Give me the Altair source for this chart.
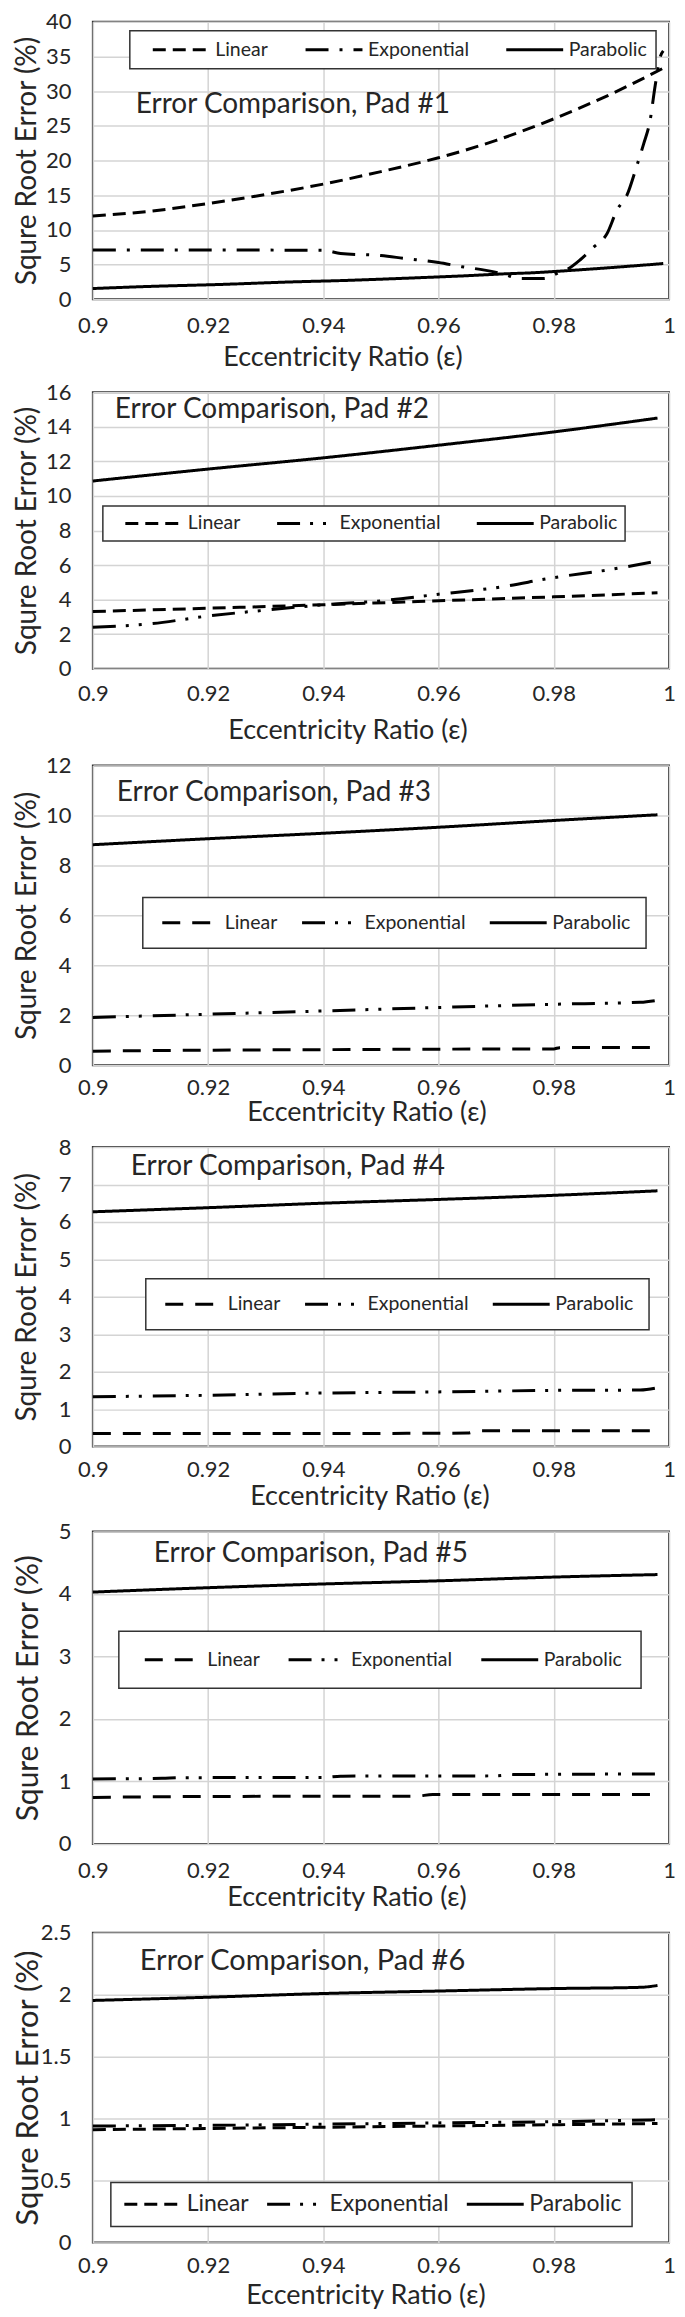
import altair as alt
import pandas as pd

SERIES = ["Linear", "Exponential", "Parabolic"]
X_TICKS = [0.9, 0.92, 0.94, 0.96, 0.98, 1.0]
X_TITLE = "Eccentricity Ratio (ε)"
Y_TITLE = "Squre Root Error (%)"

# ---------------- Pad #1 ----------------
p1_lin_x = [0.9, 0.91, 0.92, 0.93, 0.94, 0.95, 0.96, 0.97, 0.98, 0.99, 0.999]
p1_lin_y = [12.0, 12.7, 13.8, 15.1, 16.6, 18.4, 20.4, 22.9, 26.0, 29.6, 33.3]
p1_exp_x = [0.9, 0.92, 0.94, 0.943, 0.95, 0.954, 0.96, 0.964, 0.968, 0.971, 0.9742, 0.9783,
            0.981, 0.9823, 0.9846, 0.9869, 0.9892, 0.991, 0.9927, 0.9944, 0.9956, 0.9967,
            0.9976, 0.9985, 0.999]
p1_exp_y = [7.1, 7.1, 7.05, 6.6, 6.3, 5.9, 5.3, 4.7, 4.2, 3.7, 3.0, 3.0,
            3.9, 4.3, 5.7, 7.5, 9.4, 12.9, 15.0, 19.2, 22.4, 25.7,
            30.8, 35.0, 35.8]
p1_par_x = [0.9, 0.909, 0.923, 0.934, 0.944, 0.952, 0.959, 0.965, 0.971, 0.977, 0.98, 0.988, 0.999]
p1_par_y = [1.55, 1.83, 2.16, 2.49, 2.72, 2.96, 3.19, 3.4, 3.65, 3.85, 4.0, 4.45, 5.15]
p1_y_ticks = [0, 5, 10, 15, 20, 25, 30, 35, 40]

# ---------------- Pad #2 ----------------
p2_lin_x = [0.9, 0.92, 0.94, 0.96, 0.98, 0.998]
p2_lin_y = [3.31, 3.5, 3.7, 3.93, 4.16, 4.39]
p2_exp_x = [0.9, 0.91, 0.92, 0.93, 0.94, 0.95, 0.96, 0.97, 0.98, 0.99, 0.997]
p2_exp_y = [2.4, 2.6, 3.05, 3.39, 3.7, 3.93, 4.31, 4.69, 5.27, 5.75, 6.17]
p2_par_x = [0.9, 0.92, 0.94, 0.96, 0.98, 0.998]
p2_par_y = [10.86, 11.55, 12.2, 12.93, 13.7, 14.5]
p2_y_ticks = [0, 2, 4, 6, 8, 10, 12, 14, 16]

# ---------------- Pad #3 ----------------
p3_lin_x = [0.9, 0.92, 0.94, 0.96, 0.98, 0.981, 0.998]
p3_lin_y = [0.56, 0.6, 0.62, 0.64, 0.65, 0.7, 0.71]
p3_exp_x = [0.9, 0.92, 0.94, 0.96, 0.98, 0.995, 0.998]
p3_exp_y = [1.91, 2.04, 2.17, 2.31, 2.44, 2.52, 2.6]
p3_par_x = [0.9, 0.92, 0.94, 0.96, 0.98, 0.998]
p3_par_y = [8.83, 9.07, 9.29, 9.53, 9.8, 10.03]
p3_y_ticks = [0, 2, 4, 6, 8, 10, 12]

# ---------------- Pad #4 ----------------
p4_lin_x = [0.9, 0.94, 0.965, 0.967, 0.998]
p4_lin_y = [0.35, 0.35, 0.36, 0.42, 0.42]
p4_exp_x = [0.9, 0.92, 0.94, 0.96, 0.98, 0.995, 0.998]
p4_exp_y = [1.33, 1.37, 1.43, 1.46, 1.5, 1.51, 1.57]
p4_par_x = [0.9, 0.92, 0.94, 0.96, 0.98, 0.998]
p4_par_y = [6.27, 6.38, 6.5, 6.6, 6.71, 6.83]
p4_y_ticks = [0, 1, 2, 3, 4, 5, 6, 7, 8]

# ---------------- Pad #5 ----------------
p5_lin_x = [0.9, 0.92, 0.956, 0.959, 0.998]
p5_lin_y = [0.745, 0.76, 0.765, 0.79, 0.79]
p5_exp_x = [0.9, 0.912, 0.915, 0.94, 0.943, 0.97, 0.973, 0.998]
p5_exp_y = [1.04, 1.05, 1.06, 1.065, 1.085, 1.09, 1.11, 1.12]
p5_par_x = [0.9, 0.92, 0.94, 0.96, 0.98, 0.998]
p5_par_y = [4.03, 4.1, 4.16, 4.21, 4.27, 4.31]
p5_y_ticks = [0, 1, 2, 3, 4, 5]

# ---------------- Pad #6 ----------------
p6_lin_x = [0.9, 0.92, 0.94, 0.96, 0.98, 0.998]
p6_lin_y = [0.91, 0.92, 0.93, 0.94, 0.95, 0.96]
p6_exp_x = [0.9, 0.92, 0.94, 0.96, 0.98, 0.998]
p6_exp_y = [0.94, 0.945, 0.955, 0.965, 0.975, 0.99]
p6_par_x = [0.9, 0.92, 0.94, 0.96, 0.98, 0.995, 0.998]
p6_par_y = [1.954, 1.98, 2.01, 2.03, 2.05, 2.06, 2.075]
p6_y_ticks = [0, 0.5, 1, 1.5, 2, 2.5]

TXT = "#262626"
GRID = "#d4d4d4"
FONT = "Lato"

DASH_LIN_SHORT = [13, 7]
DASH_LIN_LONG = [18, 12]
DASH_EXP_1 = [23, 11, 3, 11]
DASH_EXP = [23, 10, 3, 10, 3, 11]
SOLID = [1, 0]

PLOT_W = 577


def panel(num, lin, exp, par, y_ticks, lay):
    rows = []
    for name, (xs, ys) in zip(SERIES, [lin, exp, par]):
        for xv, yv in zip(xs, ys):
            rows.append({"x": xv, "y": yv, "series": name})
    df = pd.DataFrame(rows)

    legend = alt.Legend(
        title=None, orient="none", legendX=lay["lx"], legendY=lay["ly"],
        direction="horizontal", symbolType="stroke", symbolSize=3249,
        symbolStrokeWidth=3, symbolStrokeColor="black",
        labelFont=FONT, labelFontSize=lay["lfs"], labelColor=TXT, labelOffset=4,
        columnPadding=lay["cp"], padding=lay["pad"], symbolOffset=lay["so"],
        clipHeight=lay["ch"], strokeColor="#333333", fillColor="white", cornerRadius=0,
    )

    lines = alt.Chart(df).mark_line(color="black", strokeWidth=3, interpolate="monotone").encode(
        x=alt.X("x:Q", scale=alt.Scale(domain=[0.9, 1.0], nice=False, zero=False),
                axis=alt.Axis(values=X_TICKS, format="~g", grid=True, gridColor=GRID, gridWidth=1.5,
                              domain=False, ticks=False, tickSize=0, labelFont=FONT, labelFontSize=22,
                              labelColor=TXT, labelPadding=lay["xlp"], labelBaseline="middle",
                              labelFlush=False, labelOverlap=False,
                              title=X_TITLE, titleFont=FONT, titleFontSize=27, titleFontWeight="normal",
                              titleColor=TXT, titleX=lay["tx"], titleY=lay["ty"],
                              titleBaseline="middle", titleAlign="center")),
        y=alt.Y("y:Q", scale=alt.Scale(domain=[0, y_ticks[-1]], nice=False, zero=True),
                axis=alt.Axis(values=y_ticks, format="~g", grid=True, gridColor=GRID, gridWidth=1.5,
                              domain=False, ticks=False, tickSize=0, labelFont=FONT, labelFontSize=22,
                              labelColor=TXT, labelPadding=22,
                              title=Y_TITLE, titleFont=FONT, titleFontSize=lay["yfs"],
                              titleFontWeight="normal", titleColor=TXT, titlePadding=8,
                              minExtent=lay["ext"], maxExtent=lay["ext"])),
        strokeDash=alt.StrokeDash("series:N", scale=alt.Scale(domain=SERIES, range=lay["dash"]),
                                  legend=legend),
    )

    ann = alt.Chart(pd.DataFrame({"label": ["Error Comparison, Pad #%d" % num]})).mark_text(
        align="left", baseline="middle", font=FONT, fontSize=lay["afs"], color=TXT
    ).encode(text="label:N", x=alt.value(lay["ax"]), y=alt.value(lay["ay"]))

    return alt.layer(lines, ann).properties(width=PLOT_W, height=lay["h"])


layouts = [
    dict(h=278, ext=43, yfs=28, xlp=26, tx=250, ty=58, ax=43, ay=83, afs=28,
         lx=37, ly=9, lfs=19.5, cp=23, pad=9, so=12.5, ch=20,
         dash=[DASH_LIN_SHORT, DASH_EXP_1, SOLID]),
    dict(h=277, ext=43, yfs=28, xlp=25, tx=255, ty=62, ax=22, ay=18, afs=28,
         lx=10, ly=114, lfs=19.5, cp=21, pad=7.5, so=13.5, ch=20,
         dash=[DASH_LIN_SHORT, DASH_EXP, SOLID]),
    dict(h=300, ext=43, yfs=28, xlp=22, tx=274, ty=47, ax=24, ay=27, afs=28,
         lx=50, ly=132, lfs=19.5, cp=20, pad=15.5, so=2.5, ch=20,
         dash=[DASH_LIN_LONG, DASH_EXP, SOLID]),
    dict(h=300, ext=43, yfs=28, xlp=23, tx=277, ty=50, ax=38, ay=20, afs=28,
         lx=53, ly=132, lfs=19.5, cp=20, pad=15.5, so=2.5, ch=20,
         dash=[DASH_LIN_LONG, DASH_EXP, SOLID]),
    dict(h=313, ext=41, yfs=30, xlp=27, tx=254, ty=54, ax=61, ay=23, afs=28,
         lx=26, ly=100, lfs=19.5, cp=21, pad=18.5, so=6, ch=20,
         dash=[DASH_LIN_LONG, DASH_EXP, SOLID]),
    dict(h=310, ext=40, yfs=31, xlp=23, tx=273, ty=53, ax=47, ay=28, afs=29,
         lx=18, ly=250, lfs=23, cp=14, pad=10, so=2, ch=23,
         dash=[DASH_LIN_SHORT, DASH_EXP, SOLID]),
]

data_sets = [
    ((p1_lin_x, p1_lin_y), (p1_exp_x, p1_exp_y), (p1_par_x, p1_par_y), p1_y_ticks),
    ((p2_lin_x, p2_lin_y), (p2_exp_x, p2_exp_y), (p2_par_x, p2_par_y), p2_y_ticks),
    ((p3_lin_x, p3_lin_y), (p3_exp_x, p3_exp_y), (p3_par_x, p3_par_y), p3_y_ticks),
    ((p4_lin_x, p4_lin_y), (p4_exp_x, p4_exp_y), (p4_par_x, p4_par_y), p4_y_ticks),
    ((p5_lin_x, p5_lin_y), (p5_exp_x, p5_exp_y), (p5_par_x, p5_par_y), p5_y_ticks),
    ((p6_lin_x, p6_lin_y), (p6_exp_x, p6_exp_y), (p6_par_x, p6_par_y), p6_y_ticks),
]

panels = [panel(i + 1, *data_sets[i], layouts[i]) for i in range(6)]

chart = alt.vconcat(*panels, spacing=9).resolve_scale(
    x="independent", y="independent", strokeDash="independent"
).resolve_legend(strokeDash="independent").resolve_axis(
    x="independent", y="independent"
).properties(
    padding={"left": 3, "top": 0, "right": 0, "bottom": 0}
).configure(font=FONT).configure_view(
    stroke="#333333", strokeWidth=2
).configure_legend(strokeWidth=1.5)

chart.save("out.html", embed_options={"renderer": "svg", "actions": False})
